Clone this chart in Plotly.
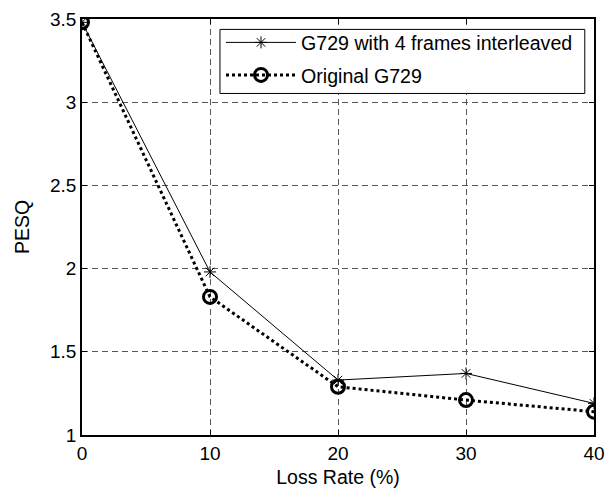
import plotly.graph_objects as go

loss_rate = [0, 10, 20, 30, 40]
pesq_interleaved = [3.48, 1.98, 1.33, 1.37, 1.19]
pesq_original = [3.48, 1.83, 1.29, 1.21, 1.14]
name_interleaved = "G729 with 4 frames interleaved"
name_original = "Original G729"
x_ticks = [0, 10, 20, 30, 40]
y_ticks = [1, 1.5, 2, 2.5, 3, 3.5]

FONT = "Liberation Sans, Arial, sans-serif"

fig = go.Figure()
fig.add_trace(go.Scatter(
    x=loss_rate, y=pesq_interleaved, name=name_interleaved,
    mode="lines+markers", legendgroup="a",
    line=dict(color="black", width=1),
    marker=dict(symbol="asterisk-open", size=10, color="black",
                line=dict(color="black", width=1)),
))
fig.add_trace(go.Scatter(
    x=loss_rate, y=pesq_original, name=name_original,
    mode="lines+markers", legendgroup="b",
    line=dict(color="black", width=3, dash="dot"),
    marker=dict(symbol="circle-open", size=13, color="black",
                line=dict(color="black", width=3)),
))

axis_common = dict(
    showline=True, linecolor="black", linewidth=1.5, mirror="ticks",
    ticks="inside", ticklen=5, tickcolor="black",
    showgrid=True, gridcolor="#555555", gridwidth=1, griddash="6px,4px",
    zeroline=False, automargin=False,
    tickfont=dict(family=FONT, size=19, color="black"),
)

# opaque legend box (drawn as a shape so its size matches the reference)
legend_box = dict(type="rect", xref="paper", yref="paper",
                  x0=0.2695, x1=0.982, y0=0.821, y1=0.975,
                  fillcolor="white", line=dict(color="black", width=1),
                  layer="above")

fig.update_layout(
    width=615, height=491,
    margin=dict(l=82, r=21, t=19, b=56),
    paper_bgcolor="white", plot_bgcolor="white",
    font=dict(family=FONT, size=19, color="black"),
    xaxis=dict(range=[0, 40], tickvals=x_ticks, ticktext=[str(v) for v in x_ticks],
               title=dict(text="Loss Rate (%)", standoff=8,
                          font=dict(family=FONT, size=19.5)), **axis_common),
    yaxis=dict(range=[1, 3.5], tickvals=y_ticks, ticktext=[f"{v:g}" for v in y_ticks],
               title=dict(text="PESQ", standoff=15,
                          font=dict(family=FONT, size=19.5)), **axis_common),
    legend=dict(x=0.2715, y=0.990, xanchor="left", yanchor="top",
                bgcolor="rgba(0,0,0,0)", borderwidth=0,
                font=dict(family=FONT, size=19.6), itemwidth=70, tracegroupgap=4),
    shapes=[legend_box],
    showlegend=True,
)

fig.write_html("out.html")
